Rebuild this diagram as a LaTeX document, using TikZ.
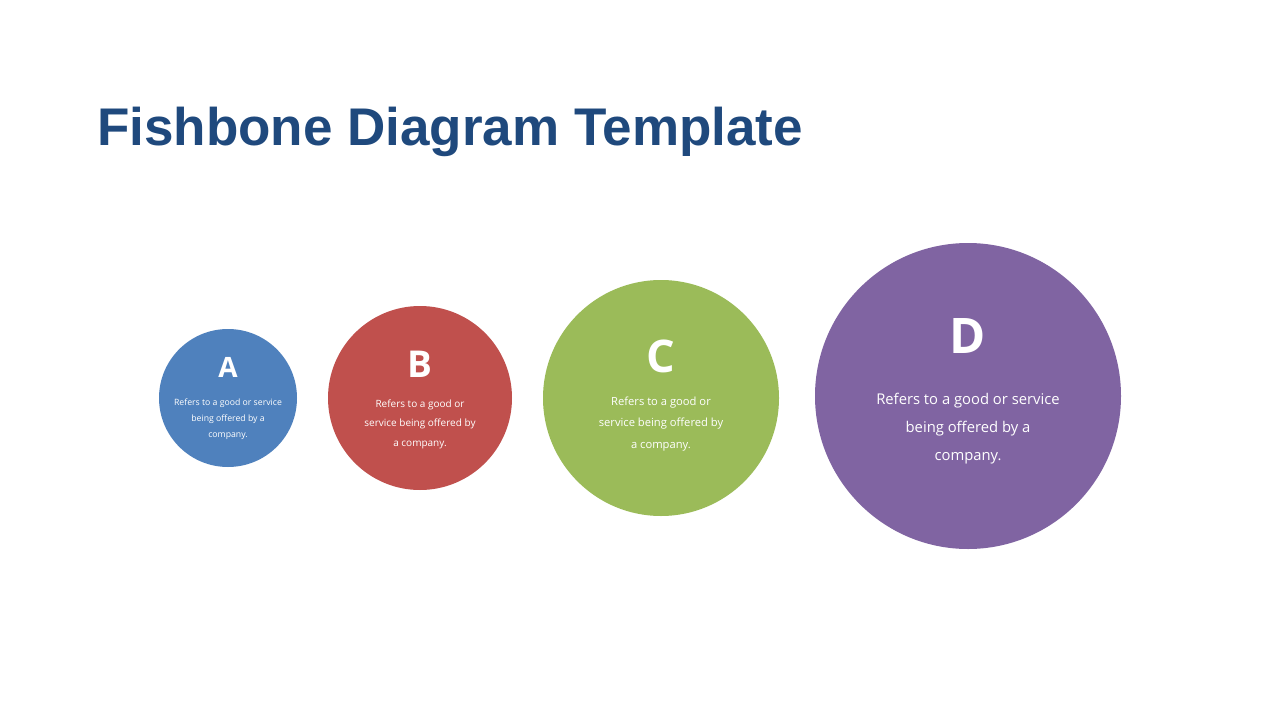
\documentclass[tikz,border=0pt]{standalone}
\usepackage{fontspec}
\setmainfont{Open Sans}
\newfontfamily\titlefont{Liberation Sans}
\definecolor{titleblue}{HTML}{1F497D}
\definecolor{bubbleA}{HTML}{4F81BD}
\definecolor{bubbleB}{HTML}{C0504D}
\definecolor{bubbleC}{HTML}{9BBB59}
\definecolor{bubbleD}{HTML}{8064A2}
\begin{document}
\begin{tikzpicture}[x=1pt,y=-1pt,
		bubble/.style={circle,draw=none,inner sep=0pt},
		letter/.style={text=white,font=\bfseries},
		blurb/.style={text=white,align=center,inner sep=0pt}]
	\useasboundingbox[fill=white] (0,0) rectangle (1280,720);
	% title
	\node[anchor=base west,inner sep=0pt,text=titleblue,
		font={\titlefont\bfseries\fontsize{53}{60}\selectfont}] (title) at (97,145) {Fishbone Diagram Template};
	% bubbles
	\node[bubble,fill=bubbleA,minimum size=138pt] (A) at (228,398) {};
	\node[bubble,fill=bubbleB,minimum size=184pt] (B) at (420,398) {};
	\node[bubble,fill=bubbleC,minimum size=236pt] (C) at (661,398) {};
	\node[bubble,fill=bubbleD,minimum size=306pt] (D) at (968,396) {};
	% letters
	\node[letter,font={\bfseries\fontsize{28}{30}\selectfont}] (A-letter) at (228,367) {A};
	\node[letter,font={\bfseries\fontsize{37}{40}\selectfont}] (B-letter) at (420,364) {B};
	\node[letter,font={\bfseries\fontsize{45}{48}\selectfont}] (C-letter) at (661,356) {C};
	\node[letter,font={\bfseries\fontsize{49}{52}\selectfont}] (D-letter) at (968,336) {D};
	% texts
	\node[blurb,font={\fontsize{8.7}{16}\selectfont}] (A-text) at (228,419) {Refers to a good or service\\ being offered by a\\ company.};
	\node[blurb,font={\fontsize{10}{19.5}\selectfont}] (B-text) at (420,424) {Refers to a good or\\ service being offered by\\ a company.};
	\node[blurb,font={\fontsize{11.2}{21.5}\selectfont}] (C-text) at (661,424) {Refers to a good or\\ service being offered by\\ a company.};
	\node[blurb,font={\fontsize{14.8}{28}\selectfont}] (D-text) at (968,429) {Refers to a good or service\\ being offered by a\\ company.};
\end{tikzpicture}
\end{document}
